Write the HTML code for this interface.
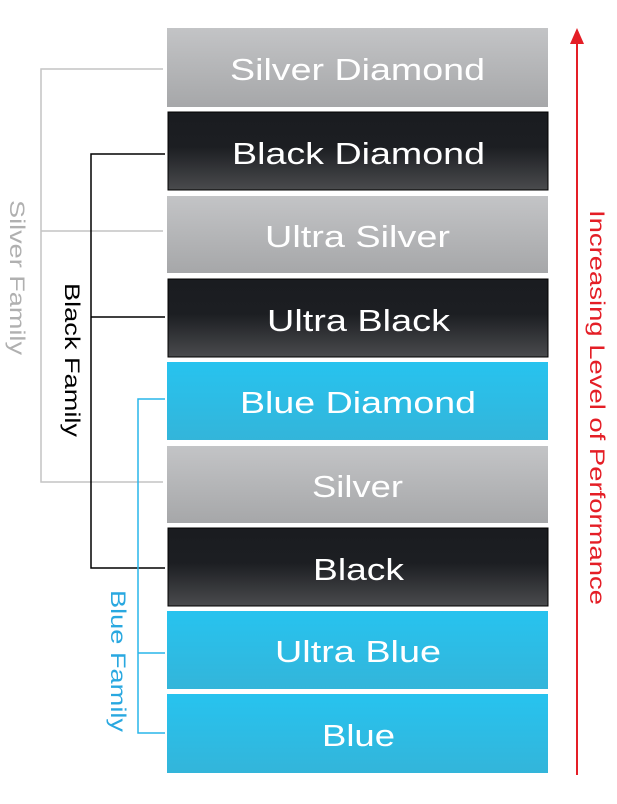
<!DOCTYPE html>
<html><head><style>body{margin:0;background:#fff}</style></head><body>
<svg width="617" height="799" xmlns="http://www.w3.org/2000/svg" font-family="Liberation Sans, sans-serif">
<defs>
<linearGradient id="s" x1="0" y1="0" x2="0" y2="1"><stop offset="0" stop-color="#c3c4c6"/><stop offset="1" stop-color="#a6a7a9"/></linearGradient>
<linearGradient id="k" x1="0" y1="0" x2="0" y2="1"><stop offset="0" stop-color="#1a1c20"/><stop offset="0.45" stop-color="#1c1e22"/><stop offset="1" stop-color="#4a4b4d"/></linearGradient>
<linearGradient id="b" x1="0" y1="0" x2="0" y2="1"><stop offset="0" stop-color="#27c3ef"/><stop offset="1" stop-color="#33b5da"/></linearGradient>
</defs>
<g stroke-width="1.5" fill="none">
<path d="M163 69H41V482H163M41 231H163" stroke="#c4c4c4"/>
<path d="M165 154H91V568H165M91 317H165" stroke="#000"/>
<path d="M165 399H138V733H165M138 653H165" stroke="#29b6ea"/>
</g>
<g font-size="31" fill="#fff" lengthAdjust="spacingAndGlyphs">
<rect x="167" y="28" width="381" height="79" fill="url(#s)"/><text x="230" y="80" textLength="255" lengthAdjust="spacingAndGlyphs">Silver Diamond</text>
<rect x="168" y="112" width="380" height="78" fill="url(#k)" stroke="#000"/><text x="232" y="164" textLength="253" lengthAdjust="spacingAndGlyphs">Black Diamond</text>
<rect x="167" y="196" width="381" height="77" fill="url(#s)"/><text x="265" y="247" textLength="185" lengthAdjust="spacingAndGlyphs">Ultra Silver</text>
<rect x="168" y="279" width="380" height="78" fill="url(#k)" stroke="#000"/><text x="267" y="331" textLength="183" lengthAdjust="spacingAndGlyphs">Ultra Black</text>
<rect x="167" y="362" width="381" height="78" fill="url(#b)"/><text x="240" y="413" textLength="236" lengthAdjust="spacingAndGlyphs">Blue Diamond</text>
<rect x="167" y="446" width="381" height="77" fill="url(#s)"/><text x="312" y="497" textLength="91" lengthAdjust="spacingAndGlyphs">Silver</text>
<rect x="168" y="528" width="380" height="78" fill="url(#k)" stroke="#000"/><text x="313" y="580" textLength="91" lengthAdjust="spacingAndGlyphs">Black</text>
<rect x="167" y="611" width="381" height="78" fill="url(#b)"/><text x="275" y="662" textLength="166" lengthAdjust="spacingAndGlyphs">Ultra Blue</text>
<rect x="167" y="694" width="381" height="79" fill="url(#b)"/><text x="322" y="746" textLength="73" lengthAdjust="spacingAndGlyphs">Blue</text>
</g>
<g font-size="21">
<text transform="translate(10,200) rotate(90)" fill="#b0b0b0" textLength="155" lengthAdjust="spacingAndGlyphs">Silver Family</text>
<text transform="translate(65,283) rotate(90)" fill="#000" textLength="154" lengthAdjust="spacingAndGlyphs">Black Family</text>
<text transform="translate(111,590) rotate(90)" fill="#29a8e0" textLength="142" lengthAdjust="spacingAndGlyphs">Blue Family</text>
<text transform="translate(590,210) rotate(90)" fill="#e41e26" textLength="395" lengthAdjust="spacingAndGlyphs">Increasing Level of Performance</text>
</g>
<line x1="577" y1="775" x2="577" y2="40" stroke="#e41e26" stroke-width="2"/>
<path d="M570 44L577 28L584 44Z" fill="#e41e26"/>
</svg>
</body></html>
